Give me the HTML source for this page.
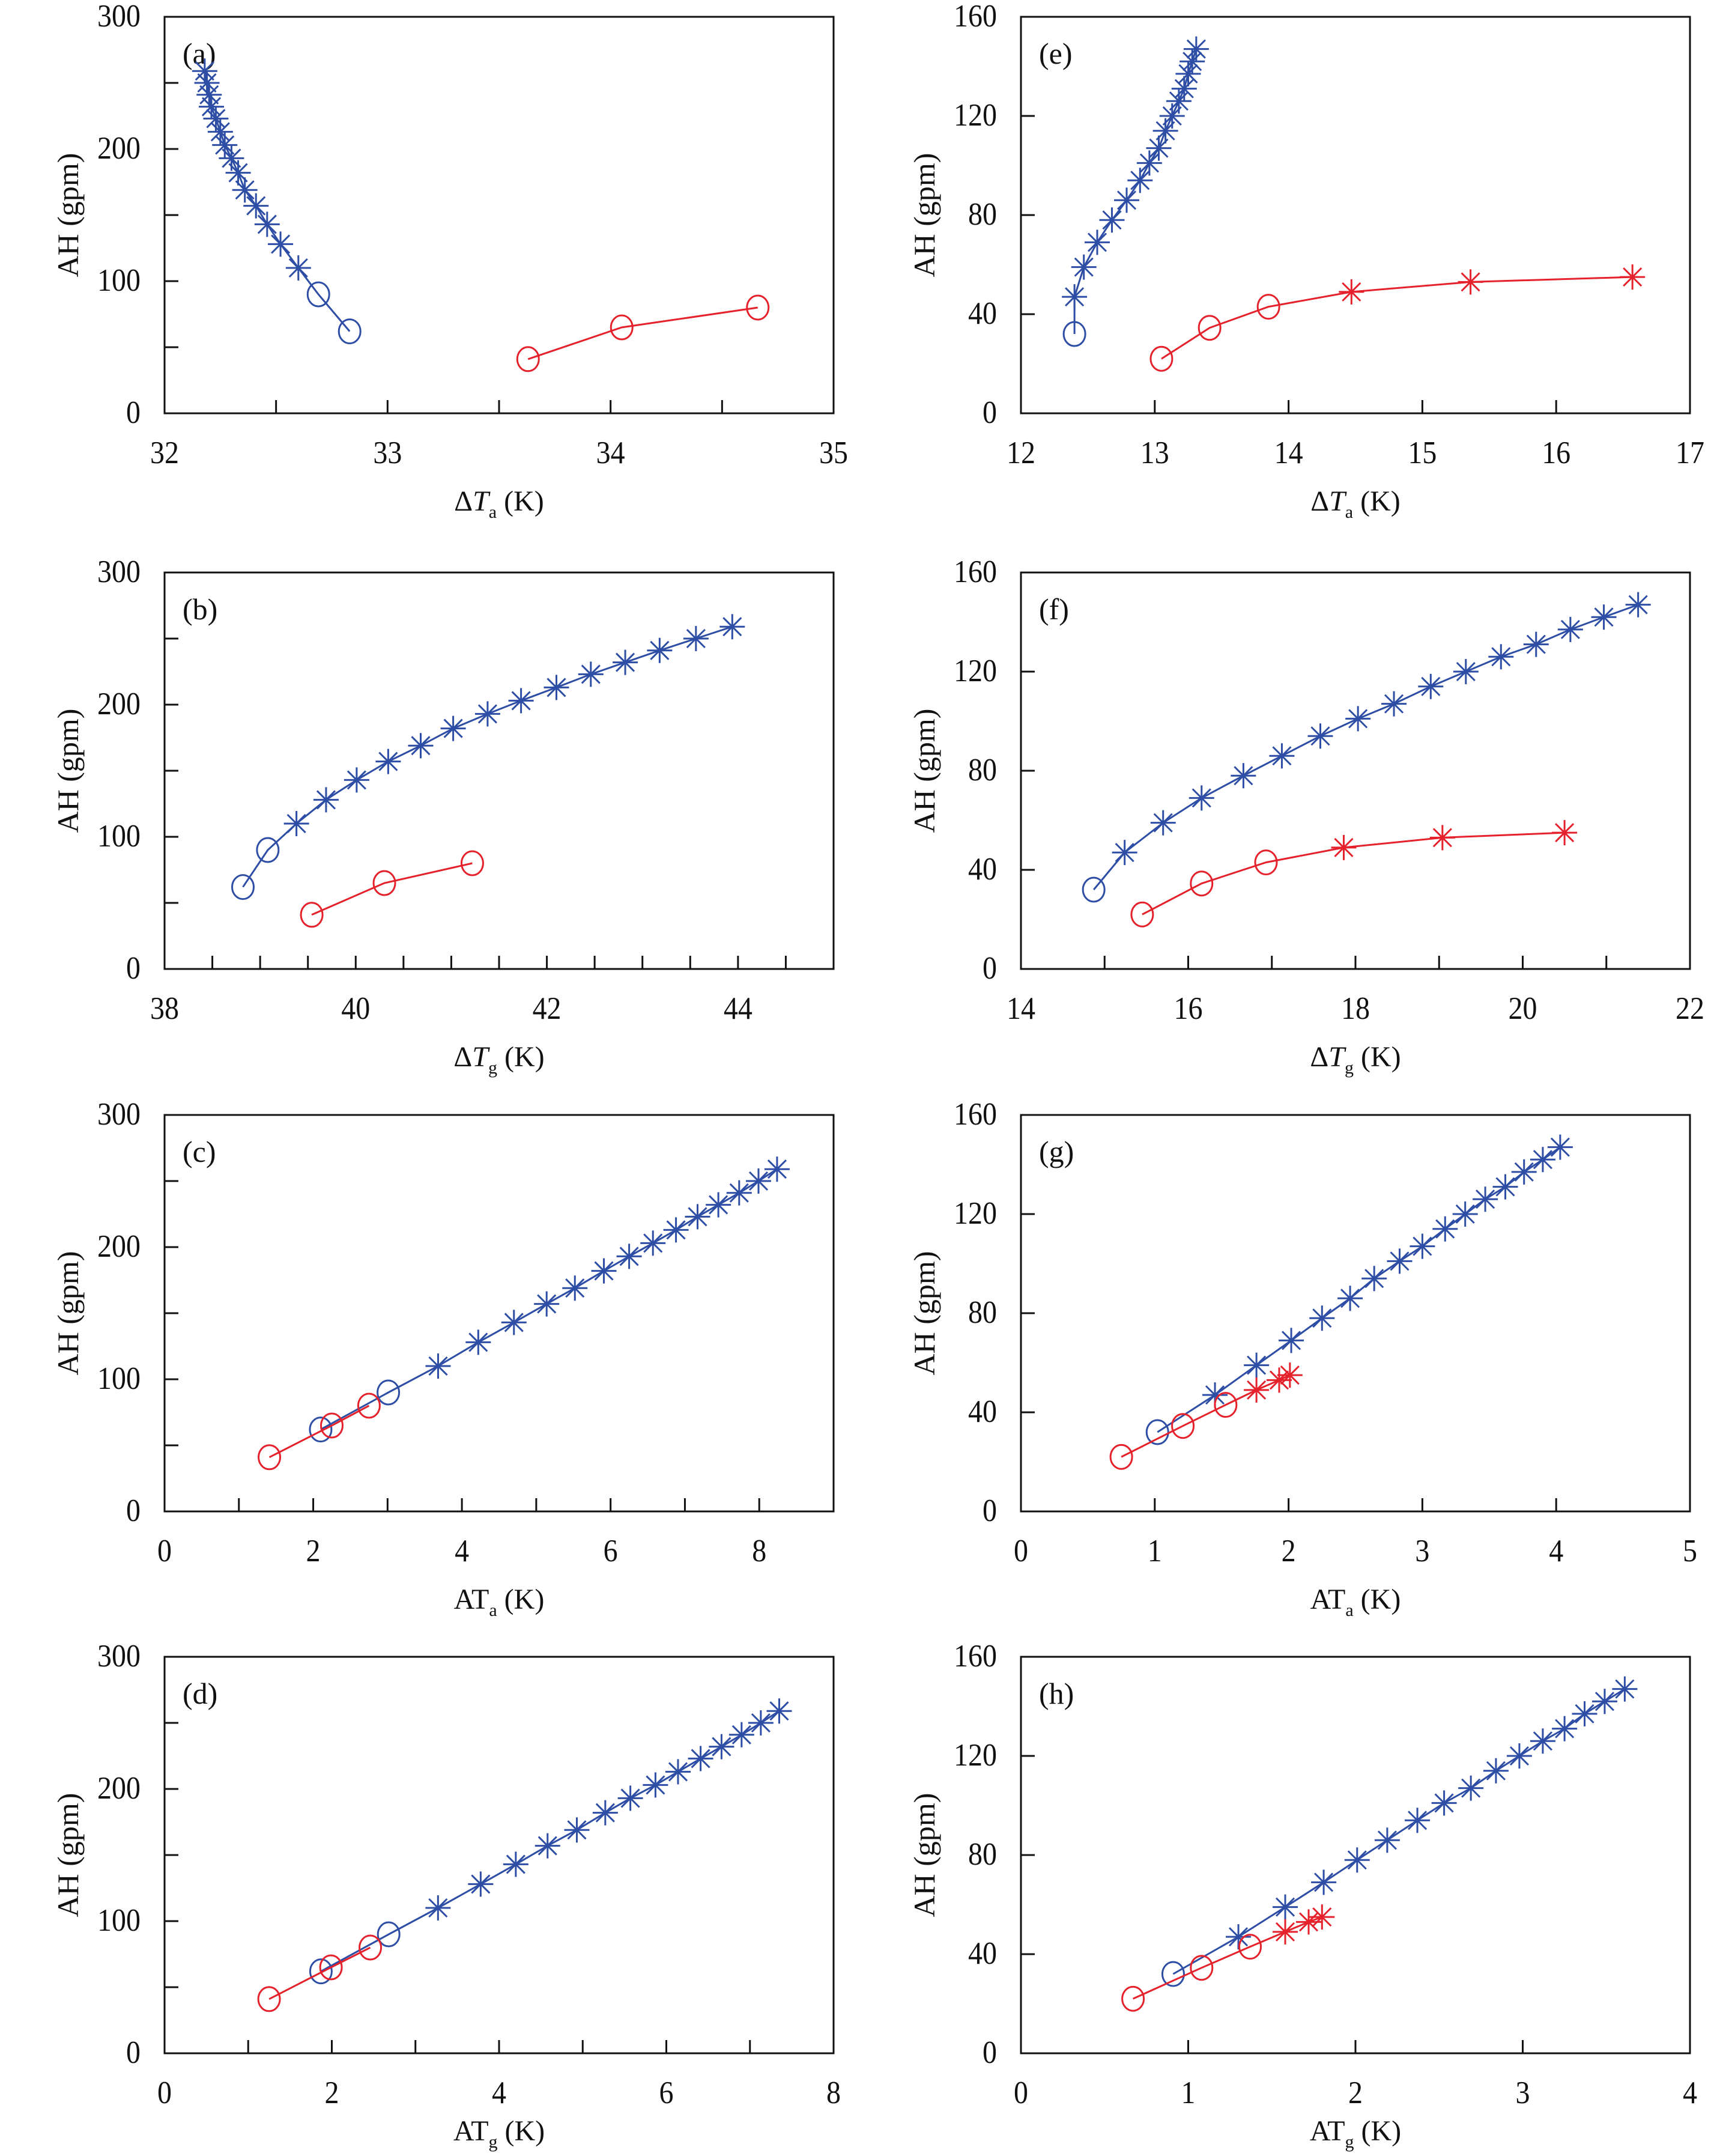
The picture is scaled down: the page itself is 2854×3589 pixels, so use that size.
<!DOCTYPE html>
<html><head><meta charset="utf-8"><style>
html,body{margin:0;padding:0;background:#fff}
svg{display:block}
text{font-family:"Liberation Serif",serif;fill:#111}
</style></head><body>
<svg id="chart" width="2854" height="3589" viewBox="0 0 2854 3589" xmlns="http://www.w3.org/2000/svg"></svg>
<script>
// shared AH values
const ahBlueL = [62,90,110,128,143,157,169,182,193,203,213,223,232,241,250,259];
const ahRedL = [41,65,80];
const ahBlueR = [32,47,59,69,78,86,94,101,107,114,120,126,131,137,142,147];
const ahRedR = [22,34.5,43,49,53,55];
// x values per panel
const xa_blue = [32.83,32.69,32.60,32.52,32.46,32.41,32.36,32.33,32.30,32.27,32.25,32.23,32.21,32.20,32.19,32.18];
const xa_red = [33.63,34.05,34.66];
const xb_blue = [38.82,39.08,39.38,39.69,40.01,40.34,40.68,41.02,41.38,41.73,42.10,42.46,42.82,43.18,43.56,43.94];
const xb_red = [39.54,40.30,41.22];
const xc_blue = [2.10,3.01,3.68,4.22,4.70,5.14,5.52,5.91,6.25,6.57,6.88,7.17,7.45,7.73,7.99,8.24];
const xc_red = [1.41,2.25,2.75];
const xd_blue = [1.87,2.68,3.27,3.78,4.20,4.58,4.93,5.27,5.57,5.87,6.14,6.41,6.66,6.90,7.13,7.35];
const xd_red = [1.25,1.99,2.46];
const xe_blue = [12.40,12.40,12.47,12.57,12.68,12.79,12.89,12.96,13.03,13.08,13.13,13.18,13.22,13.25,13.28,13.31];
const xe_red = [13.05,13.41,13.85,14.47,15.36,16.57];
const xf_blue = [14.87,15.24,15.70,16.16,16.66,17.12,17.58,18.03,18.46,18.90,19.32,19.74,20.16,20.57,20.97,21.38];
const xf_red = [15.45,16.16,16.93,17.86,19.04,20.50];
const xg_blue = [1.02,1.45,1.76,2.02,2.25,2.46,2.64,2.83,3.00,3.17,3.32,3.47,3.62,3.76,3.90,4.03];
const xg_red = [0.75,1.21,1.53,1.76,1.93,2.01];
const xh_blue = [0.91,1.30,1.58,1.81,2.01,2.19,2.37,2.53,2.69,2.84,2.98,3.12,3.25,3.37,3.49,3.61];
const xh_red = [0.67,1.08,1.37,1.58,1.72,1.80];
// marker types: number of leading circles
const blueCirclesL = 2, redCirclesL = 3, blueCirclesR = 1, redCirclesR = 3;

const NS="http://www.w3.org/2000/svg";
const svg=document.getElementById('chart');
const BLUE="#2e4ea6", RED="#e5212b";
function el(tag,attrs,parent){const e=document.createElementNS(NS,tag);for(const k in attrs)e.setAttribute(k,attrs[k]);(parent||svg).appendChild(e);return e;}

const panels=[
 {id:'a',col:0,row:0,xmin:32,xmax:35,xstep:0.5,xlab:[32,33,34,35],ymax:300,ystep:50,ylab:[0,100,200,300],xb:xa_blue,xr:xa_red,lbl:'ΔT',sub:'a',ital:true},
 {id:'b',col:0,row:1,xmin:38,xmax:45,xstep:0.5,xlab:[38,40,42,44],ymax:300,ystep:50,ylab:[0,100,200,300],xb:xb_blue,xr:xb_red,lbl:'ΔT',sub:'g',ital:true},
 {id:'c',col:0,row:2,xmin:0,xmax:9,xstep:1,xlab:[0,2,4,6,8],ymax:300,ystep:50,ylab:[0,100,200,300],xb:xc_blue,xr:xc_red,lbl:'AT',sub:'a',ital:false},
 {id:'d',col:0,row:3,xmin:0,xmax:8,xstep:1,xlab:[0,2,4,6,8],ymax:300,ystep:50,ylab:[0,100,200,300],xb:xd_blue,xr:xd_red,lbl:'AT',sub:'g',ital:false},
 {id:'e',col:1,row:0,xmin:12,xmax:17,xstep:1,xlab:[12,13,14,15,16,17],ymax:160,ystep:40,ylab:[0,40,80,120,160],xb:xe_blue,xr:xe_red,lbl:'ΔT',sub:'a',ital:true},
 {id:'f',col:1,row:1,xmin:14,xmax:22,xstep:1,xlab:[14,16,18,20,22],ymax:160,ystep:40,ylab:[0,40,80,120,160],xb:xf_blue,xr:xf_red,lbl:'ΔT',sub:'g',ital:true},
 {id:'g',col:1,row:2,xmin:0,xmax:5,xstep:1,xlab:[0,1,2,3,4,5],ymax:160,ystep:40,ylab:[0,40,80,120,160],xb:xg_blue,xr:xg_red,lbl:'AT',sub:'a',ital:false},
 {id:'h',col:1,row:3,xmin:0,xmax:4,xstep:1,xlab:[0,1,2,3,4],ymax:160,ystep:40,ylab:[0,40,80,120,160],xb:xh_blue,xr:xh_red,lbl:'AT',sub:'g',ital:false}
];
const tops=[28,953,1856,2758], lefts=[274,1700], W=1114, H=660;
const titleOff=[162,162,162,145];

function star(g,x,y,c){
  const r=21,d=15;
  const s=el('path',{d:`M${x-r},${y}H${x+r}M${x},${y-r}V${y+r}M${x-d},${y-d}L${x+d},${y+d}M${x-d},${y+d}L${x+d},${y-d}`,stroke:c,'stroke-width':3,fill:'none'},g);
  
  
}
function circ(g,x,y,c){
  const s=el('ellipse',{cx:x,cy:y,rx:18,ry:20,stroke:c,'stroke-width':3,fill:'none'},g);
  
  
}

panels.forEach(p=>{
  const L=lefts[p.col],T=tops[p.row];
  const g=el('g',{});
  
  
  const X=v=>L+(v-p.xmin)/(p.xmax-p.xmin)*W;
  const Y=v=>T+H-v/p.ymax*H;
  for(let v=p.xmin+p.xstep;v<p.xmax-1e-6;v+=p.xstep){
    const t=el('line',{x1:X(v),x2:X(v),y1:T+H,y2:T+H-22,stroke:'#111','stroke-width':3},g);
    
    
  }
  for(let v=p.ystep;v<p.ymax-1e-6;v+=p.ystep){
    const t=el('line',{x1:L,x2:L+23,y1:Y(v),y2:Y(v),stroke:'#111','stroke-width':3},g);
    
    
  }
  const box=el('rect',{x:L,y:T,width:W,height:H,fill:'none',stroke:'#111','stroke-width':3},g);
  
  
  p.xlab.forEach(v=>{
    const yy=T+H+83;
    const t=el('text',{x:X(v),y:yy,'text-anchor':'middle','font-size':48,transform:`translate(0,${-yy*0.1}) scale(1,1.1)`},g);
    t.textContent=v;
    
    
  });
  p.ylab.forEach(v=>{
    const yy=Y(v)+16;
    const t=el('text',{x:L-40,y:yy,'text-anchor':'end','font-size':48,transform:`translate(0,${-yy*0.1}) scale(1,1.1)`},g);
    t.textContent=v;
    
    
  });
  const yc=T+H/2;
  const yt=el('text',{x:L-160,y:yc,'text-anchor':'middle','font-size':50,transform:`rotate(-90 ${L-160} ${yc}) translate(0,16)`},g);
  yt.textContent='AH (gpm)';
  
  
  const xt=el('text',{x:L+W/2,y:T+H+titleOff[p.row],'text-anchor':'middle','font-size':48},g);
  
  
  if(p.ital){xt.innerHTML='Δ<tspan font-style="italic">T</tspan><tspan font-size="30" dy="12">'+p.sub+'</tspan><tspan dy="-12"> (K)</tspan>';}
  else{xt.innerHTML='AT<tspan font-size="30" dy="12">'+p.sub+'</tspan><tspan dy="-12"> (K)</tspan>';}
  const pl=el('text',{x:L+30,y:T+78,'font-size':50},g);
  pl.textContent='('+p.id+')';
  
  
  const ahB=p.col?ahBlueR:ahBlueL, ahR=p.col?ahRedR:ahRedL;
  const nbC=p.col?blueCirclesR:blueCirclesL, nrC=p.col?redCirclesR:redCirclesL;
  [[p.xb,ahB,BLUE,nbC,'blue'],[p.xr,ahR,RED,nrC,'red']].forEach(([xs,ys,c,nc,nm])=>{
    const pts=xs.map((x,i)=>X(x)+','+Y(ys[i])).join(' ');
    const ln=el('polyline',{points:pts,fill:'none',stroke:c,'stroke-width':3},g);
    
    
    xs.forEach((x,i)=>{ if(i<nc) circ(g,X(x),Y(ys[i]),c); else star(g,X(x),Y(ys[i]),c); });
  });
});
</script>
</body></html>
